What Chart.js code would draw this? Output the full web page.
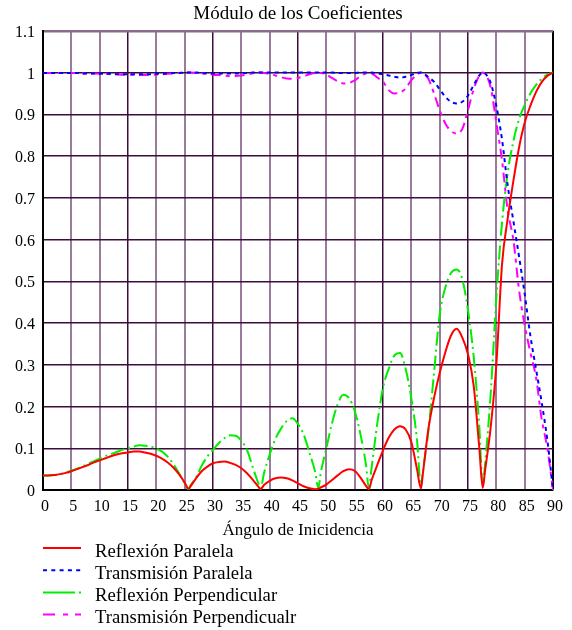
<!DOCTYPE html>
<html><head><meta charset="utf-8">
<script src="https://cdn.jsdelivr.net/npm/chart.js@4.4.1/dist/chart.umd.min.js"></script>
<style>
html,body{margin:0;padding:0;background:#fff;}
#wrap{position:relative;width:572px;height:630px;overflow:hidden;}
#c{position:absolute;left:0;top:0;}
#legend{position:absolute;left:0;top:0;}
</style></head><body>
<div id="wrap"><canvas id="c" width="572" height="541"></canvas><svg id="legend" width="572" height="630" xmlns="http://www.w3.org/2000/svg"></svg></div>
<script>
const angles = [0,1,2,3,4,5,6,7,8,9,10,11,12,13,14,15,16,17,18,19,20,21,22,23,24,25,
  25.7,
  26,27,28,29,30,31,32,33,34,35,36,37,38,
  38.4,
  39,40,41,42,43,44,45,46,47,48,
  48.6,
  49,50,51,52,53,54,55,56,57,
  57.5,
  58,59,60,61,62,63,64,65,66,
  66.7,
  67,68,69,70,71,72,73,74,75,76,77,
  77.6,
  78,79,80,81,82,83,84,85,86,87,88,89,90];

const reflParalela = [0.035,0.035,0.036,0.038,0.041,0.045,0.050,0.055,0.060,0.066,0.071,0.076,0.081,0.085,0.088,0.090,0.092,0.092,0.090,0.087,0.082,0.075,0.066,0.054,0.038,0.018,
  0.003,
  0.008,0.028,0.045,0.056,0.064,0.067,0.068,0.065,0.060,0.052,0.040,0.025,0.008,
  0.002,
  0.012,0.022,0.028,0.030,0.028,0.023,0.016,0.009,0.004,0.002,
  0.003,
  0.006,0.013,0.024,0.035,0.045,0.050,0.046,0.030,0.010,
  0.002,
  0.024,0.060,0.095,0.125,0.145,0.153,0.145,0.115,0.050,
  0.004,
  0.035,0.145,0.220,0.280,0.330,0.370,0.386,0.365,0.325,0.250,0.100,
  0.005,
  0.045,0.150,0.300,0.540,0.650,0.740,0.820,0.880,0.920,0.953,0.977,0.992,1.000];

const transParalela = [0.999,0.999,0.999,0.999,0.999,0.999,0.999,0.998,0.998,0.998,0.997,0.997,0.997,0.996,0.996,0.996,0.996,0.996,0.996,0.996,0.997,0.997,0.998,0.999,0.999,1.0,
  1.0,
  1.0,1.0,0.999,0.998,0.998,0.998,0.998,0.998,0.998,0.999,0.999,1.0,1.0,
  1.0,
  1.0,1.0,1.0,1.0,1.0,1.0,1.0,1.0,1.0,1.0,
  1.0,
  1.0,1.0,1.0,0.999,0.999,0.999,0.999,1.0,1.0,
  1.0,
  1.0,0.998,0.996,0.993,0.990,0.988,0.990,0.994,0.999,
  1.0,
  0.999,0.989,0.978,0.960,0.942,0.930,0.926,0.930,0.945,0.970,0.993,
  1.0,
  0.998,0.975,0.920,0.840,0.730,0.645,0.560,0.470,0.370,0.290,0.210,0.120,0.0];

const reflPerp = [0.035,0.035,0.036,0.038,0.042,0.046,0.051,0.057,0.063,0.069,0.075,0.081,0.086,0.091,0.096,0.100,0.104,0.107,0.106,0.104,0.099,0.092,0.080,0.062,0.040,0.015,
  0.002,
  0.010,0.030,0.058,0.080,0.096,0.112,0.124,0.131,0.130,0.118,0.096,0.055,0.016,
  0.003,
  0.040,0.085,0.122,0.147,0.165,0.172,0.158,0.133,0.090,0.045,
  0.005,
  0.040,0.100,0.160,0.205,0.228,0.220,0.190,0.135,0.060,
  0.005,
  0.055,0.160,0.245,0.290,0.322,0.328,0.290,0.220,0.120,
  0.006,
  0.040,0.140,0.280,0.420,0.485,0.520,0.528,0.505,0.430,0.320,0.150,
  0.010,
  0.060,0.230,0.460,0.640,0.760,0.835,0.888,0.922,0.950,0.970,0.985,0.995,1.000];

const transPerp = [0.999,0.999,0.999,0.999,0.999,0.999,0.999,0.998,0.998,0.998,0.997,0.997,0.996,0.996,0.995,0.995,0.995,0.994,0.994,0.995,0.995,0.996,0.997,0.998,0.999,1.0,
  1.0,
  1.0,0.999,0.998,0.997,0.995,0.994,0.993,0.992,0.992,0.993,0.995,0.998,1.0,
  1.0,
  0.999,0.997,0.993,0.989,0.986,0.985,0.987,0.991,0.996,0.999,
  1.0,
  0.999,0.995,0.987,0.979,0.974,0.975,0.981,0.991,0.998,
  1.0,
  0.998,0.988,0.978,0.958,0.950,0.952,0.962,0.982,0.995,
  1.0,
  0.998,0.985,0.950,0.910,0.878,0.860,0.854,0.865,0.910,0.960,0.993,
  1.0,
  0.997,0.965,0.880,0.790,0.670,0.600,0.480,0.395,0.330,0.270,0.170,0.100,0.0];

const xTicks = [0,5,10,15,20,25,30,35,40,45,50,55,60,65,70,75,80,85,90];
const yTicks = [0,0.1,0.2,0.3,0.4,0.5,0.6,0.7,0.8,0.9,1,1.1];
const yTickLabels = ['0','0.1','0.2','0.3','0.4','0.5','0.6','0.7','0.8','0.9','1','1.1'];
const seriesLabels = ['Reflexión Paralela','Transmisión Paralela','Reflexión Perpendicular','Transmisión Perpendicualr'];
const titleText = 'Módulo de los Coeficientes';
const xTitleText = 'Ángulo de Inicidencia';

const FONT = '"Liberation Serif", "Times New Roman", serif';
const colors = ['#ff0000','#0000ff','#00ee00','#ff00ff'];
const dashes = [[], [4,4], [14,4,2,4], [10,5,4,5]];
const legendDashes = ['', '4 4.3', '32 4 2 100', '12 8 5 7 6 100'];
const seriesValues = [reflParalela, transParalela, reflPerp, transPerp];

const datasets = seriesValues.map((vals, i) => ({
  label: seriesLabels[i],
  data: angles.map((a, k) => ({x: a, y: vals[k]})),
  borderColor: colors[i],
  backgroundColor: colors[i],
  borderWidth: 2,
  borderDash: dashes[i],
  pointRadius: 0,
  fill: false,
  cubicInterpolationMode: 'monotone'
}));

const chart = new Chart(document.getElementById('c'), {
  type: 'line',
  data: {datasets},
  options: {
    responsive: false,
    animation: false,
    devicePixelRatio: 1,
    layout: {padding: {left: 0, right: 19, top: 0, bottom: 0}},
    plugins: {
      legend: {display: false},
      tooltip: {enabled: false},
      title: {
        display: true, text: titleText, color: '#000', fullSize: false,
        font: {family: FONT, size: 19, weight: 'normal', lineHeight: 1.2},
        padding: {top: 3, bottom: 5}
      }
    },
    scales: {
      x: {
        type: 'linear', min: 0, max: 90,
        afterBuildTicks: s => { s.ticks = xTicks.map(v => ({value: v})); },
        afterFit: s => { s.height = 51; },
        ticks: {
          color: '#000', font: {family: FONT, size: 16}, padding: 7,
          autoSkip: false, maxRotation: 0, minRotation: 0, labelOffset: 2,
          callback: v => String(v)
        },
        grid: {
          drawTicks: false,
          color: c => (c.tick && c.tick.value === 90) ? '#000000' : ((c.tick && c.tick.value % 15 === 0) ? '#3c0c3c' : '#9c7a9c'),
          lineWidth: c => (c.tick && c.tick.value === 90) ? 2 : ((c.tick && c.tick.value % 15 === 0) ? 1.5 : 2)
        },
        border: {display: true, color: '#000', width: 2},
        title: {
          display: true, text: xTitleText, color: '#000',
          font: {family: FONT, size: 17, lineHeight: 1.2},
          padding: {top: 0, bottom: 0}
        }
      },
      y: {
        type: 'linear', min: 0, max: 1.1,
        afterBuildTicks: s => { s.ticks = yTicks.map(v => ({value: v})); },
        afterFit: s => { s.width = 43; },
        ticks: {
          color: '#000', font: {family: FONT, size: 16}, padding: 8, labelOffset: 2,
          autoSkip: false,
          callback: (v, i) => yTickLabels[i]
        },
        grid: {
          drawTicks: false,
          color: c => (c.tick && Math.abs(c.tick.value - 1.1) < 1e-9) ? '#8a6a8a' : '#3c0c3c',
          lineWidth: c => (c.tick && Math.abs(c.tick.value - 1.1) < 1e-9) ? 2.5 : 1.5
        },
        border: {display: true, color: '#000', width: 2}
      }
    }
  }
});

// Legend built from the chart's datasets
const svg = document.getElementById('legend');
const NS = 'http://www.w3.org/2000/svg';
chart.data.datasets.forEach((ds, i) => {
  const base = 556.7 + i * 22.2;
  const ly = base - 8.7;
  const line = document.createElementNS(NS, 'line');
  line.setAttribute('x1', 43); line.setAttribute('x2', 81);
  line.setAttribute('y1', ly); line.setAttribute('y2', ly);
  line.setAttribute('stroke', ds.borderColor);
  line.setAttribute('stroke-width', 2);
  if (legendDashes[i]) line.setAttribute('stroke-dasharray', legendDashes[i]);
  svg.appendChild(line);
  const t = document.createElementNS(NS, 'text');
  t.setAttribute('x', 95); t.setAttribute('y', base);
  t.setAttribute('font-family', FONT);
  t.setAttribute('font-size', '18.7');
  t.setAttribute('fill', '#000');
  t.textContent = ds.label;
  svg.appendChild(t);
});
</script>
</body></html>
